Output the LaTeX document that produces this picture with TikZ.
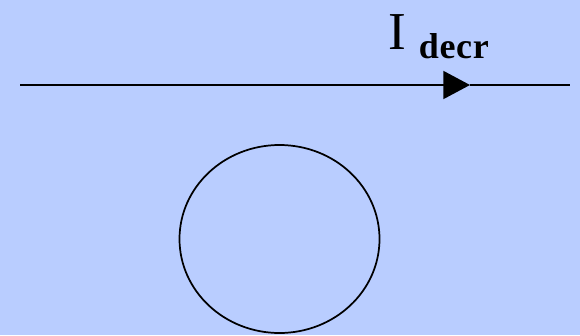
\documentclass[tikz,border=0pt]{standalone}
\usepackage{fontspec}
\setmainfont{Liberation Serif}
\usepackage{xcolor}
\usetikzlibrary{arrows.meta,shapes.geometric}
\definecolor{bgblue}{RGB}{185,205,255}

\begin{document}
\begin{tikzpicture}[x=0.75pt, y=-0.75pt, line width=1.3pt]
    % Background
    \fill[bgblue] (0,0) rectangle (580,335);
    \useasboundingbox (0,0) rectangle (580,335);

    % Wire
    \coordinate (wstart) at (20,85);
    \coordinate (wtip) at (470,85);
    \coordinate (wend) at (570,85);
    \draw[-{Triangle[length=20pt,width=21pt]}] (wstart) -- (wtip);
    \draw (wtip) -- (wend);

    % Label
    \node[anchor=base west, inner sep=0] (curr) at (388,50) {\fontsize{40}{40}\selectfont I};
    \node[anchor=base west, inner sep=0] (decr) at (418,58) {\fontsize{27}{27}\selectfont\bfseries d\kern0.5pt e\kern0.5pt c\kern0.5pt r};

    % Loop
    \node[draw, ellipse, inner sep=0, minimum width=150pt, minimum height=141pt] (loop) at (279.5,239) {};
\end{tikzpicture}
\end{document}
